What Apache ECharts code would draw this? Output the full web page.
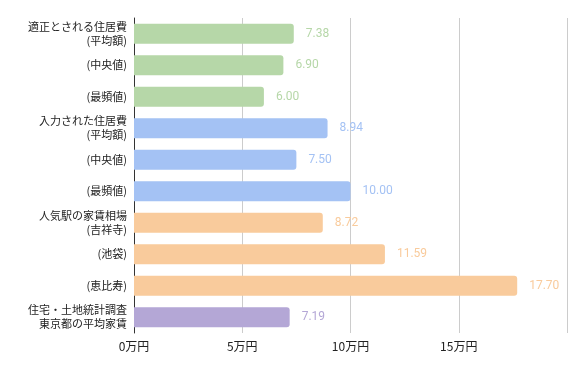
<!DOCTYPE html>
<html>
<head>
<meta charset="utf-8">
<script src="https://cdn.jsdelivr.net/npm/echarts@6/dist/echarts.min.js"></script>
<style>
  html, body { margin: 0; padding: 0; background: #fff; }
  #chart { width: 586px; height: 371px; }
</style>
</head>
<body>
<div id="chart"></div>
<script>
// カテゴリ（上から順）
const categories = [
  '適正とされる住居費\n(平均額)', '(中央値)', '(最頻値)',
  '入力された住居費\n(平均額)', '(中央値)', '(最頻値)',
  '人気駅の家賃相場\n(吉祥寺)', '(池袋)', '(恵比寿)',
  '住宅・土地統計調査\n東京都の平均家賃'
]
// 金額（万円）
const values = [7.38, 6.90, 6.00, 8.94, 7.50, 10.00, 8.72, 11.59, 17.70, 7.19]
// グループごとの色
const colors = [
  '#b6d7a8', '#b6d7a8', '#b6d7a8',
  '#a4c2f4', '#a4c2f4', '#a4c2f4',
  '#f9cb9c', '#f9cb9c', '#f9cb9c',
  '#b4a7d6'
]
const xTicks = [0, 5, 10, 15, 20]

const chart = echarts.init(document.getElementById('chart'))

chart.setOption({
  animation: false,
  textStyle: { fontFamily: '"Noto Sans CJK JP", sans-serif' },
  grid: {
    left: 134,
    right: 19,
    top: 18,
    bottom: 38
  },
  xAxis: {
    type: 'value',
    min: xTicks[0],
    max: xTicks[xTicks.length - 1],
    interval: 5,
    axisLine: { show: false },
    axisTick: { show: false },
    splitLine: { lineStyle: { color: '#cccccc', width: 1 } },
    axisLabel: {
      showMaxLabel: false,
      color: '#222',
      fontSize: 12,
      margin: 7,
      formatter: v => v + '万円'
    }
  },
  yAxis: {
    type: 'category',
    inverse: true,
    data: categories,
    axisLine: { lineStyle: { color: '#333', width: 1 } },
    axisTick: { show: false },
    axisLabel: {
      color: '#222',
      fontSize: 11,
      lineHeight: 14,
      margin: 7,
      align: 'right'
    }
  },
  series: [
    {
      type: 'bar',
      barCategoryGap: '37%',
      data: values.map((v, i) => ({
        value: v,
        itemStyle: { color: colors[i], borderRadius: [0, 3, 3, 0] },
        label: { color: colors[i] }
      })),
      label: {
        show: true,
        position: 'right',
        distance: 12,
        fontSize: 12,
        fontFamily: 'Roboto, sans-serif',
        formatter: p => p.value.toFixed(2)
      }
    }
  ]
})
</script>
</body>
</html>
